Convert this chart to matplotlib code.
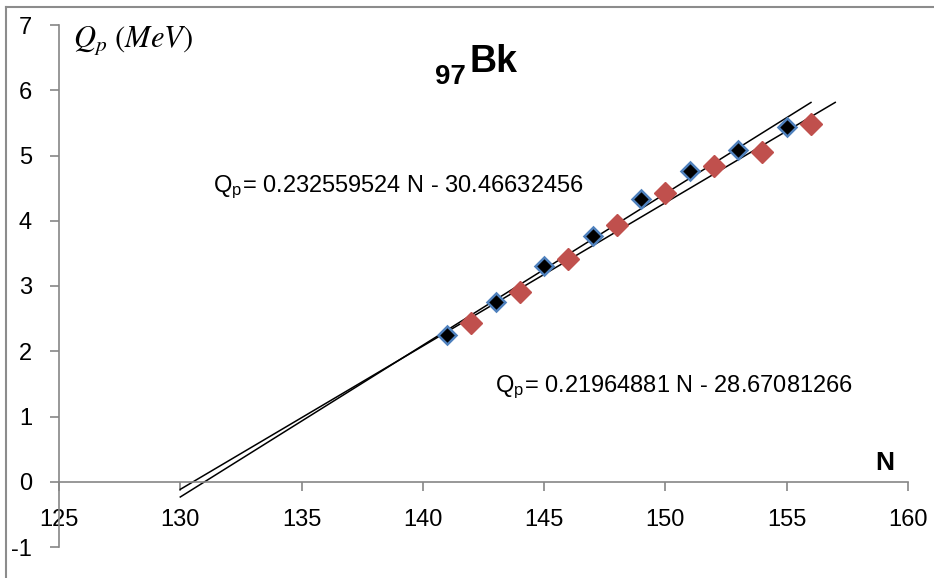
import matplotlib
matplotlib.use('Agg')
import matplotlib.pyplot as plt
from matplotlib.lines import Line2D
from matplotlib.ticker import FuncFormatter

# Proton separation energies for 97Bk (MeV) against neutron number
n_odd = [141, 143, 145, 147, 149, 151, 153, 155]
qp_odd = [2.25, 2.75, 3.31, 3.77, 4.33, 4.76, 5.09, 5.44]
n_even = [142, 144, 146, 148, 150, 152, 154, 156]
qp_even = [2.44, 2.91, 3.41, 3.94, 4.43, 4.84, 5.05, 5.49]

# Linear fits written on the chart, with the N range each line covers
fit1 = (0.232559524, -30.46632456)
fit1_range = (130, 156)
fit2 = (0.21964881, -28.67081266)
fit2_range = (130, 157)

xticks = [125, 130, 135, 140, 145, 150, 155, 160]
yticks = [-1, 0, 1, 2, 3, 4, 5, 6, 7]

plt.rcParams['font.family'] = ['Liberation Sans', 'DejaVu Sans']
plt.rcParams['mathtext.fontset'] = 'stix'
plt.rcParams['xtick.labelsize'] = 17
plt.rcParams['ytick.labelsize'] = 17
axis_grey = '#868686'

W, H = 934, 578
fig = plt.figure(figsize=(W/100, H/100), dpi=100)
ax = fig.add_axes([59/W, 31/H, 849/W, 522/H])

for (m, b), (x0, x1) in [(fit1, fit1_range), (fit2, fit2_range)]:
    ax.plot([x0, x1], [m*x0 + b, m*x1 + b], color='black', lw=1.1, zorder=2)

ax.plot(n_even, qp_even, ls='none', marker='D', ms=11.5, mfc='#C0504D', mec='#C0504D', zorder=3)
ax.plot(n_odd, qp_odd, ls='none', marker='D', ms=9.5, mfc='black', mec='#4F81BD', mew=1.8, zorder=4)

ax.set_xlim(125, 160)
ax.set_ylim(-1, 7)
ax.set_xticks(xticks)
ax.set_yticks(yticks)
ax.xaxis.set_major_formatter(FuncFormatter(lambda v, p: '%d' % v))
ax.yaxis.set_major_formatter(FuncFormatter(lambda v, p: '%d' % v))

ax.spines['top'].set_visible(False)
ax.spines['right'].set_visible(False)
ax.spines['bottom'].set_position(('data', 0))
for s in ['left', 'bottom']:
    ax.spines[s].set_color(axis_grey)
    ax.spines[s].set_linewidth(1.2)

ax.tick_params(axis='both', direction='out', length=6.5, width=1.2, color=axis_grey)
ax.tick_params(axis='x', pad=13)
ax.tick_params(axis='y', pad=13)

# fit equations
ax.text((213 - 59)/849, (547 - 192)/522, r'Q$_\mathregular{p}$= 0.232559524 N - 30.46632456',
        fontsize=17, va='baseline', transform=ax.transAxes)
ax.text((495 - 59)/849, (547 - 392)/522, r'Q$_\mathregular{p}$= 0.21964881 N - 28.67081266',
        fontsize=17, va='baseline', transform=ax.transAxes)

# element label, axis names
fig.text(435/W, 1 - 84/H, '97', fontsize=20, weight='bold', va='baseline')
fig.text(470/W, 1 - 72/H, 'Bk', fontsize=27, weight='bold', va='baseline')
fig.text(73/W, 1 - 47/H, r'$Q_p\ (MeV)$', fontsize=22, va='baseline')
fig.text(875/W, 1 - 470/H, 'N', fontsize=19, weight='bold', va='baseline')

# chart frame on the left and top
fig.add_artist(Line2D([6/W, 6/W], [0, 1 - 7/H], color='#8c8c8c', lw=1.5))
fig.add_artist(Line2D([6/W, 1], [1 - 7/H, 1 - 7/H], color='#8c8c8c', lw=1.5))

fig.savefig('out.png', dpi=100)
